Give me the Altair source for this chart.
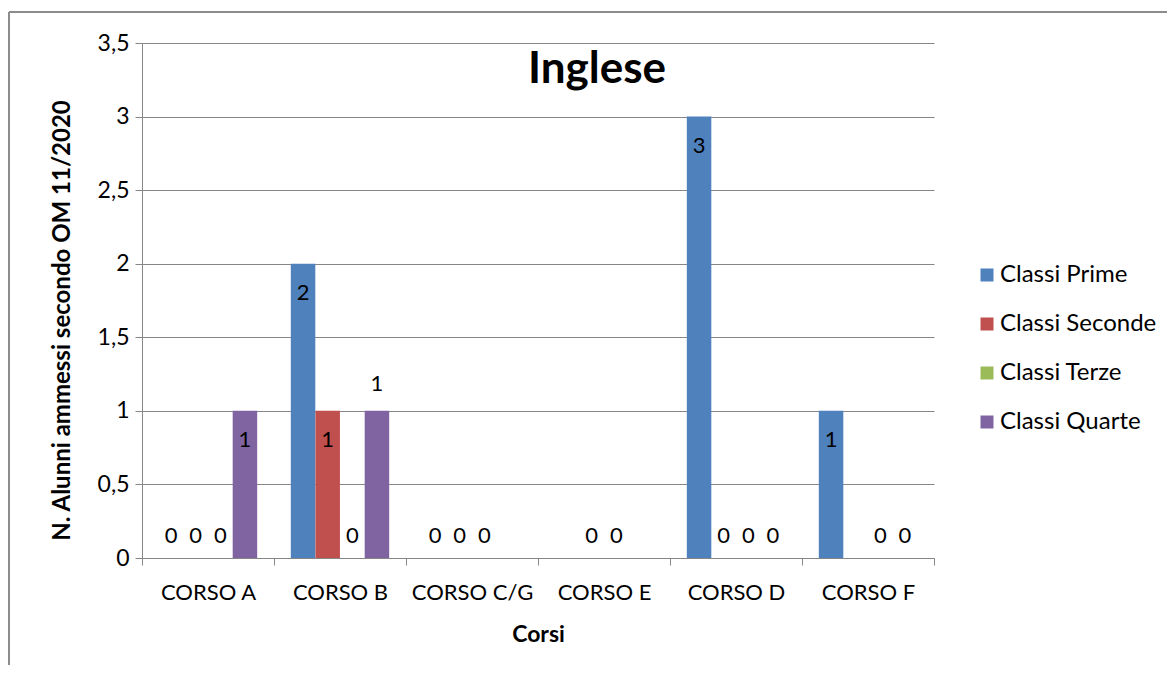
import altair as alt
import pandas as pd

categories = ["CORSO A", "CORSO B", "CORSO C/G", "CORSO E", "CORSO D", "CORSO F"]
series = ["Classi Prime", "Classi Seconde", "Classi Terze", "Classi Quarte"]
prime = [0, 2, 0, None, 3, 1]
seconde = [0, 1, 0, 0, 0, None]
terze = [0, 0, 0, 0, 0, 0]
quarte = [1, 1, None, None, 0, 0]
colors = ["#4F81BD", "#C0504D", "#9BBB59", "#8064A2"]
y_ticks = [0, 0.5, 1, 1.5, 2, 2.5, 3, 3.5]

rows = []
for s, vals in zip(series, [prime, seconde, terze, quarte]):
    for c, v in zip(categories, vals):
        if v is not None:
            rows.append({"corso": c, "serie": s, "valore": v})
df = pd.DataFrame(rows)

FONT = "Lato"
W, H = 792, 515
GRID = "#868686"

x_enc = alt.X("corso:N", sort=categories, scale=alt.Scale(paddingInner=0, paddingOuter=0),
              axis=alt.Axis(title="Corsi", tickBand="extent", labelAngle=0, labelFontSize=22,
                            labelFont=FONT, labelColor="black", labelPadding=17,
                            titleFont=FONT, titleFontSize=23, titleFontWeight="bold",
                            titleColor="black", titlePadding=20, domainColor=GRID,
                            tickColor=GRID, tickSize=7, grid=False))
xo_enc = alt.XOffset("serie:N", sort=series,
                     scale=alt.Scale(paddingInner=0, paddingOuter=0.68))
y_enc = alt.Y("valore:Q", scale=alt.Scale(domain=[0, 3.5], nice=False),
              axis=alt.Axis(values=y_ticks, title="N. Alunni ammessi secondo OM 11/2020",
                            labelExpr="replace(toString(datum.value), '.', ',')",
                            labelFont=FONT, labelFontSize=23, labelColor="black",
                            labelPadding=6, titleFont=FONT, titleFontSize=24,
                            titleFontWeight="bold", titleColor="black",
                            titleX=-80, titleY=277, titleAngle=270, titleAlign="center",
                            titleBaseline="middle",
                            gridColor=GRID, domainColor=GRID, tickColor=GRID, tickSize=7))

base = alt.Chart(df)
bars = base.mark_bar(size=24.5).encode(
    x=x_enc, xOffset=xo_enc, y=y_enc,
    color=alt.Color("serie:N", sort=series, scale=alt.Scale(domain=series, range=colors),
                    legend=alt.Legend(title=None, orient="none", legendX=833, legendY=220,
                                      symbolType="square", symbolSize=169, symbolStrokeWidth=0,
                                      labelFont=FONT, labelFontSize=24, labelColor="black",
                                      rowPadding=25, labelOffset=1)),
)

def labels(filter_expr, dy):
    return base.transform_filter(filter_expr).mark_text(
        font=FONT, fontSize=22, color="black", baseline="middle", dy=dy
    ).encode(x=alt.X("corso:N", sort=categories), xOffset=alt.XOffset("serie:N", sort=series),
             y="valore:Q", text=alt.Text("valore:Q"))

above = "datum.corso == 'CORSO B' && datum.serie == 'Classi Quarte'"
lab_in = labels(f"datum.valore > 0 && !({above})", 29)
lab_zero = labels("datum.valore == 0", -22)
lab_above = labels(above, -27)

border_left = alt.Chart(df).mark_rule(color="#8c8c8c", strokeWidth=2).encode(
    x=alt.value(-133), y=alt.value(-31), y2=alt.value(H + 200))
border_top = alt.Chart(df).mark_rule(color="#8c8c8c", strokeWidth=2).encode(
    x=alt.value(-133), x2=alt.value(W + 300), y=alt.value(-31))

chart = alt.layer(bars, lab_in, lab_zero, lab_above, border_left, border_top).properties(
    width=W, height=H,
    padding={"left": 134, "top": 35, "right": 233, "bottom": 107},
    autosize=alt.AutoSizeParams(type="none"),
    title=alt.TitleParams("Inglese", font=FONT, fontSize=44, fontWeight="bold",
                          color="black", dx=59, offset=-81, anchor="middle"),
).configure_view(stroke=None).resolve_scale(x="shared")

chart.save("out.html", embed_options={"renderer": "svg", "actions": False})
